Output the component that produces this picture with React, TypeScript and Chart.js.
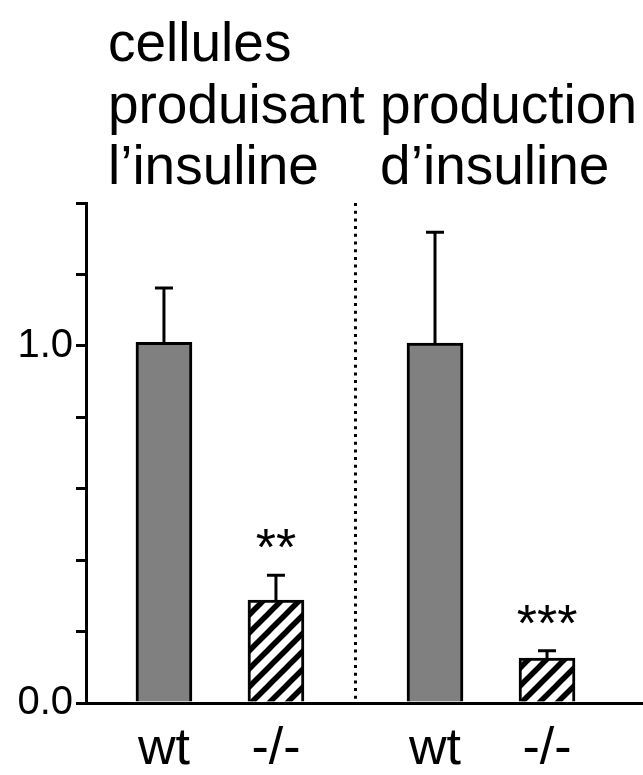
import React, { useEffect, useRef } from "react";
import { Chart, registerables } from "chart.js";

Chart.register(...registerables);

// ---- data ----
const categories = ["wt", "-/-", "wt", "-/-"];
const groupOf = [0, 0, 1, 1];
const slotOf = [0, 1, 0, 1];
const means = [1.01, 0.288, 1.008, 0.126];
const errorsUp = [0.152, 0.07, 0.31, 0.02];
const significance = ["", "**", "", "***"];
const groupTitles = [
  ["cellules", "produisant", "l’insuline"],
  ["production", "d’insuline"],
];
const labelledTicks = [0, 1];

// ---- layout constants ----
const GROUP_STEP = 2.42;
const X_MIN = -0.696;
const X_MAX = 4.277;
const Y_MIN = 0;
const Y_MAX = 1.4;
const Y_STEP = 0.2;
const TITLE_OFFSETS = [-0.5, -0.49];
const FONT = "'Liberation Sans', Arial, Helvetica, sans-serif";
const xs = categories.map((_, i) => groupOf[i] * GROUP_STEP + slotOf[i]);

function makeHatch(): CanvasPattern | string {
  const s = 18;
  const c = document.createElement("canvas");
  c.width = s;
  c.height = s;
  const g = c.getContext("2d");
  if (!g) return "#fff";
  g.fillStyle = "#fff";
  g.fillRect(0, 0, s, s);
  g.strokeStyle = "#000";
  g.lineWidth = 5.5;
  for (let k = -1; k <= 1; k++) {
    g.beginPath();
    g.moveTo(k * s - s, 2 * s);
    g.lineTo(k * s + 2 * s, -s);
    g.stroke();
  }
  const p = g.createPattern(c, "repeat");
  return p || "#fff";
}

export default function App() {
  const ref = useRef<HTMLCanvasElement | null>(null);

  useEffect(() => {
    document.body.style.margin = "0";
    const canvas = ref.current;
    if (!canvas) return;
    const hatch = makeHatch();
    const fills = categories.map((c) => (c === "wt" ? "#808080" : hatch));

    const overlay = {
      id: "overlay",
      afterDatasetsDraw(chart: any) {
        const ctx = chart.ctx as CanvasRenderingContext2D;
        const xS = chart.scales.x;
        const yS = chart.scales.y;
        const meta = chart.getDatasetMeta(0);
        ctx.save();
        ctx.strokeStyle = "#000";
        ctx.fillStyle = "#000";
        ctx.lineWidth = 3;
        meta.data.forEach((bar: any, i: number) => {
          const x = bar.x;
          const yTop = yS.getPixelForValue(means[i]);
          const yErr = yS.getPixelForValue(means[i] + errorsUp[i]);
          ctx.beginPath();
          ctx.moveTo(x, yTop);
          ctx.lineTo(x, yErr);
          ctx.moveTo(x - 9, yErr);
          ctx.lineTo(x + 9, yErr);
          ctx.stroke();
          if (significance[i]) {
            ctx.font = `52px ${FONT}`;
            ctx.textAlign = "center";
            ctx.textBaseline = "alphabetic";
            ctx.fillText(significance[i], x, yErr - 10);
          }
        });
        // dotted divider
        const dx = xS.getPixelForValue((xs[1] + xs[2]) / 2);
        ctx.setLineDash([3, 4.7]);
        ctx.beginPath();
        ctx.moveTo(dx, yS.top);
        ctx.lineTo(dx, yS.bottom);
        ctx.stroke();
        ctx.setLineDash([]);
        // group titles (bottom-aligned)
        ctx.font = `55px ${FONT}`;
        ctx.textAlign = "left";
        ctx.textBaseline = "alphabetic";
        const lastBaseline = 184;
        const lineH = 61.5;
        groupTitles.forEach((lines, g) => {
          const firstIdx = groupOf.indexOf(g);
          const tx = xS.getPixelForValue(xs[firstIdx] + TITLE_OFFSETS[g]);
          lines.forEach((t, j) => {
            const y = lastBaseline - (lines.length - 1 - j) * lineH;
            ctx.fillText(t, tx, y);
          });
        });
        ctx.restore();
      },
    };

    const chart = new Chart(canvas, {
      type: "bar",
      data: {
        datasets: [
          {
            data: xs.map((x, i) => ({ x, y: means[i] })),
            backgroundColor: fills as any,
            borderColor: "#000",
            borderWidth: 3,
            borderSkipped: "start",
            barThickness: 56,
            grouped: false,
          } as any,
        ],
      },
      options: {
        animation: false,
        responsive: true,
        maintainAspectRatio: false,
        layout: { padding: { top: 203, right: 0, bottom: 0, left: 0 } },
        plugins: { legend: { display: false }, tooltip: { enabled: false }, title: { display: false } },
        scales: {
          x: {
            type: "linear",
            offset: false,
            min: X_MIN,
            max: X_MAX,
            afterBuildTicks: (s: any) => {
              s.ticks = xs.map((v) => ({ value: v }));
            },
            afterFit: (s: any) => {
              s.height = 72;
            },
            ticks: {
              autoSkip: false,
              maxRotation: 0,
              color: "#000",
              padding: 7,
              font: { size: 52, family: FONT },
              callback: (_v: any, i: number) => categories[i],
            },
            grid: { display: false, offset: false },
            border: { display: true, color: "#000", width: 3 },
          },
          y: {
            min: Y_MIN,
            max: Y_MAX,
            afterFit: (s: any) => {
              s.width = 86;
            },
            ticks: {
              stepSize: Y_STEP,
              color: "#000",
              padding: 3,
              font: { size: 40, family: FONT },
              callback: (v: any) =>
                labelledTicks.some((t) => Math.abs(Number(v) - t) < 1e-6) ? Number(v).toFixed(1) : "",
            },
            grid: { drawOnChartArea: false, drawTicks: true, tickLength: 10, color: "#000", lineWidth: 3 },
            border: { display: true, color: "#000", width: 3 },
          },
        },
      } as any,
      plugins: [overlay],
    });
    return () => chart.destroy();
  }, []);

  return (
    <div style={{ position: "fixed", left: 0, top: 0, width: 643, height: 775, background: "#fff" }}>
      <canvas ref={ref} />
    </div>
  );
}
